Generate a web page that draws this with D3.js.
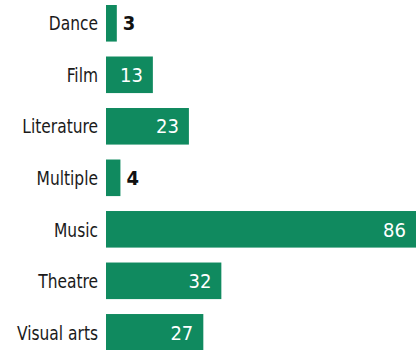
<!DOCTYPE html>
<html>
<head>
<meta charset="utf-8">
<script src="https://cdn.jsdelivr.net/npm/d3@7"></script>
<style>
  html, body { margin: 0; padding: 0; background: #ffffff; }
  svg { display: block; }
  text { font-family: "DejaVu Sans Condensed", "DejaVu Sans", sans-serif; }
</style>
</head>
<body>
<div id="chart"></div>
<script>
// Count of entries per arts category
const categories = ["Dance", "Film", "Literature", "Multiple", "Music", "Theatre", "Visual arts"];
const counts = [3, 13, 23, 4, 86, 32, 27];

const width = 420, height = 350;
const barColor = "#108a5f";

const svg = d3.select("#chart").append("svg")
  .attr("width", width)
  .attr("height", height);

const x = d3.scaleLinear()
  .domain([0, d3.max(counts)])
  .range([106, 416]);

const y = d3.scaleBand()
  .domain(categories)
  .range([5, 350.6])
  .paddingInner(0.29)
  .paddingOuter(0);

const rows = categories.map((c, i) => ({ category: c, value: counts[i] }));

// Category labels, narrowed horizontally for a condensed look
svg.append("g")
  .selectAll("text")
  .data(rows)
  .join("text")
  .attr("transform", d => `translate(98,${y(d.category) + y.bandwidth() / 2}) scale(0.86,1)`)
  .attr("dy", "0.36em")
  .attr("text-anchor", "end")
  .attr("font-size", 20)
  .attr("fill", "#1a1a1a")
  .text(d => d.category);

// Bars
svg.append("g")
  .selectAll("rect")
  .data(rows)
  .join("rect")
  .attr("x", x(0))
  .attr("y", d => y(d.category))
  .attr("width", d => x(d.value) - x(0))
  .attr("height", y.bandwidth())
  .attr("fill", barColor);

// Value labels: inside the bar when it is wide enough, otherwise just past its end
const fitsInside = d => x(d.value) - x(0) > 30;
svg.append("g")
  .selectAll("text")
  .data(rows)
  .join("text")
  .attr("x", d => fitsInside(d) ? x(d.value) - 10 : x(d.value) + 6)
  .attr("y", d => y(d.category) + y.bandwidth() / 2)
  .attr("dy", "0.36em")
  .attr("text-anchor", d => fitsInside(d) ? "end" : "start")
  .attr("font-size", 20)
  .attr("font-weight", d => fitsInside(d) ? "normal" : "bold")
  .attr("fill", d => fitsInside(d) ? "#ffffff" : "#111111")
  .text(d => d.value);
</script>
</body>
</html>
